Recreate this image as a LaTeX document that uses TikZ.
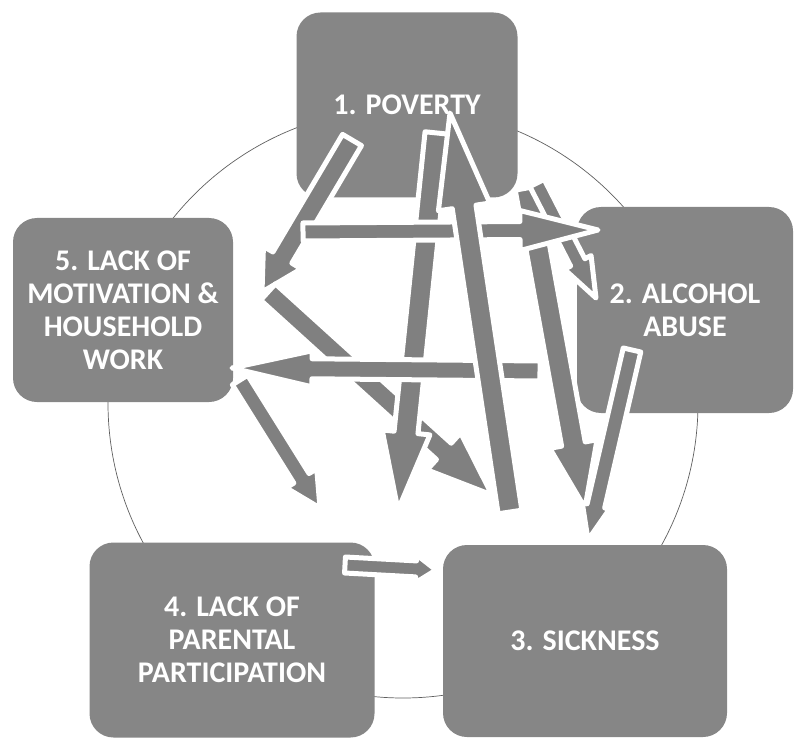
\documentclass[tikz,border=0pt]{standalone}
\usepackage{fontspec}
\setmainfont{Carlito}
\usetikzlibrary{calc}

\definecolor{boxgray}{RGB}{134,134,134}
\definecolor{arrowgray}{RGB}{128,128,128}
\definecolor{ringgray}{RGB}{95,95,95}

% block arrow: [style] tail, tip, shaft half width, head half width, head length
\newcommand{\blockarrow}[6][]{%
  \coordinate (#2-#3-h) at ($(#3)!#6!(#2)$);
  \draw[blockarrow,#1] ($(#2)!#4!90:(#3)$) -- ($(#2-#3-h)!#4!90:(#3)$)
    -- ($(#2-#3-h)!#5!90:(#3)$) -- (#3)
    -- ($(#2-#3-h)!#5!-90:(#3)$) -- ($(#2-#3-h)!#4!-90:(#3)$)
    -- ($(#2)!#4!-90:(#3)$) -- cycle;
}

\begin{document}
\begin{tikzpicture}[x=1pt,y=-1pt,
    box/.style={fill=boxgray, rounded corners=24pt, text=white, inner sep=0pt,
      font=\bfseries\fontsize{30}{33}\selectfont, align=center},
    blockarrow/.style={fill=arrowgray, draw=white, line width=5pt, line join=round}]
    \useasboundingbox (0,0) rectangle (795,738);

    % Ring behind the boxes
    \coordinate (O) at (403,403);
    \draw[ringgray, line width=0.7pt] (O) circle[radius=295];

    % Boxes
    \node[box, minimum width=221pt, minimum height=185pt] (poverty) at (407,105) {1. POVERTY};
    \node[box, minimum width=216pt, minimum height=206pt] (alcohol) at (685,310) {2. ALCOHOL\\ABUSE};
    \node[box, minimum width=284pt, minimum height=192pt] (sickness) at (585,641) {3. SICKNESS};
    \node[box, minimum width=285pt, minimum height=195pt] (parental) at (232,640) {4. LACK OF\\PARENTAL\\PARTICIPATION};
    \node[box, minimum width=220pt, minimum height=184pt] (motivation) at (123,310) {5. LACK OF\\MOTIVATION \&\\HOUSEHOLD\\WORK};

    % Arrow ends
    \coordinate (povA) at (352,140);  \coordinate (motA) at (262,292);
    \coordinate (motB) at (303,232);  \coordinate (alcA) at (598,230);
    \coordinate (alcB) at (540,371);  \coordinate (motC) at (232,368);
    \coordinate (motD) at (240,380);  \coordinate (parA) at (320,508);
    \coordinate (motE) at (268,292);  \coordinate (sicA) at (492,495);
    \coordinate (povB) at (437,133);  \coordinate (parB) at (398,510);
    \coordinate (sicB) at (510,512);  \coordinate (povC) at (450,113);
    \coordinate (povD) at (527,188);  \coordinate (sicC) at (585,508);
    \coordinate (povE) at (537,183);  \coordinate (alcC) at (596,298);
    \coordinate (alcD) at (632,350);  \coordinate (sicD) at (588,540);
    \coordinate (parC) at (345,565);  \coordinate (sicE) at (436,570);

    % Arrows, back to front
    \blockarrow{povA}{motA}{11pt}{22pt}{40pt}
    \blockarrow{motE}{sicA}{11pt}{25pt}{65pt}
    \blockarrow{povB}{parB}{12pt}{24pt}{78pt}
    \blockarrow{alcB}{motC}{10pt}{18pt}{80pt}
    \blockarrow{povD}{sicC}{12pt}{24pt}{65pt}
    \blockarrow{povE}{alcC}{8pt}{15pt}{40pt}
    \blockarrow{motB}{alcA}{9pt}{20pt}{78pt}
    \blockarrow{motD}{parA}{9pt}{18pt}{35pt}
    \blockarrow{sicB}{povC}{12pt}{26pt}{95pt}
    \blockarrow{alcD}{sicD}{9pt}{14pt}{35pt}
    \blockarrow{parC}{sicE}{8pt}{14pt}{20pt}
\end{tikzpicture}
\end{document}
